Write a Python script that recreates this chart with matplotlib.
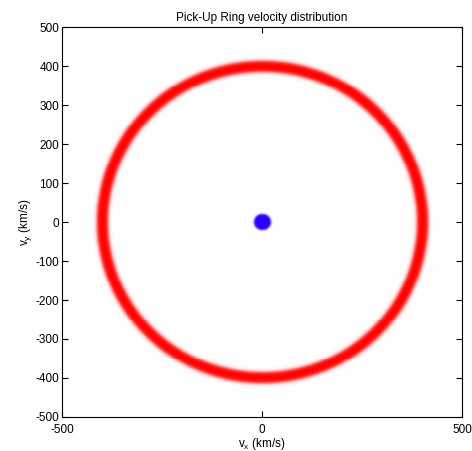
import matplotlib
matplotlib.use("Agg")
import matplotlib.pyplot as plt
import numpy as np

plt.rcParams['font.family'] = ['Liberation Sans', 'DejaVu Sans']
plt.rcParams['axes.unicode_minus'] = False

# chart values (km/s)
ring_radius = 400.0
ring_halfwidth = 14.0
core_radius = 20.0
x_ticks = [-500, 0, 500]
y_ticks = [-500, -400, -300, -200, -100, 0, 100, 200, 300, 400, 500]
title = "Pick-Up Ring velocity distribution"


def soft_edge(d, w):
    # 1 inside, fades out smoothly around the edge, exactly 0 far away
    return np.clip(0.5 - 0.5 * np.tanh(d / w), 0, 1) * (d < 6 * w)


grid = np.linspace(-500, 500, 400)
vx, vy = np.meshgrid(grid, grid)
r = np.hypot(vx, vy)

red = soft_edge(np.abs(r - ring_radius) - ring_halfwidth, 5.5)
blue = soft_edge(r - core_radius, 3.0)

img = np.ones((len(grid), len(grid), 3))
img[..., 1] -= red
img[..., 2] -= red
img[..., 0] -= 0.85 * blue
img[..., 1] -= blue
img = np.clip(img, 0, 1)

fig = plt.figure(figsize=(4.72, 4.51), dpi=100)
ax = fig.add_axes([0.1314, 0.0754, 0.8475, 0.8647])
ax.imshow(img, extent=[-500, 500, -500, 500], origin='lower',
          interpolation='nearest', aspect='auto')

ax.set_xlim(-500, 500)
ax.set_ylim(-500, 500)
ax.set_xticks(x_ticks)
ax.set_yticks(y_ticks)
ax.tick_params(direction='in', top=True, right=True, length=4, width=0.8,
               labelsize=8.5, pad=2)
ax.tick_params(axis='x', pad=5)
for s in ax.spines.values():
    s.set_linewidth(0.8)

ax.set_title(title, fontsize=8.5, pad=4)
ax.set_xlabel(r"v$_\mathregular{x}$ (km/s)", fontsize=8.5, labelpad=0)
ax.set_ylabel(r"v$_\mathregular{y}$ (km/s)", fontsize=8.5, labelpad=1)

fig.savefig("out.png", dpi=100)
